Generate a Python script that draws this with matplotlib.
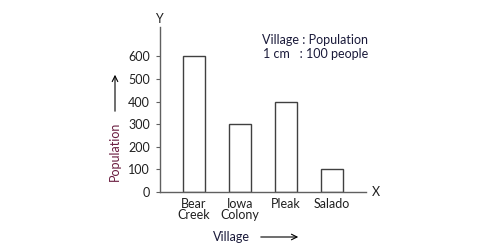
import matplotlib.pyplot as plt

villages = ['Bear\nCreek', 'Iowa\nColony', 'Pleak', 'Salado']
population = [600, 300, 400, 100]
yticks = [0, 100, 200, 300, 400, 500, 600]

plt.rcParams['font.family'] = ['Lato', 'DejaVu Sans']
W, H = 493, 244
fs = 9
fig = plt.figure(figsize=(W / 100, H / 100), dpi=100)
ax = fig.add_axes([159.5 / W, 52 / H, 206.5 / W, 165 / H])

x = range(len(villages))
ax.bar(x, population, width=0.48, color='white', edgecolor='#404040', linewidth=1)

ax.set_xlim(-0.75, 3.75)
ax.set_ylim(0, 730)
ax.set_yticks(yticks)
ax.set_yticklabels([str(v) for v in yticks], fontsize=fs, color='#202020')
ax.set_xticks(list(x))
ax.set_xticklabels(villages, fontsize=fs, color='#202020', linespacing=0.95)
ax.tick_params(axis='y', length=3, width=0.8, color='#606060', pad=4)
ax.tick_params(axis='x', length=0, pad=4)
for s in ['top', 'right']:
    ax.spines[s].set_visible(False)
for s in ['left', 'bottom']:
    ax.spines[s].set_color('#606060')
    ax.spines[s].set_linewidth(1)

def fx(px):
    return px / W

def fy(py):
    return 1 - py / H

fig.text(fx(159), fy(19), 'Y', fontsize=fs, ha='center', va='center', color='#202020')
fig.text(fx(376), fy(192), 'X', fontsize=fs, ha='center', va='center', color='#202020')

fig.text(fx(368), fy(40), 'Village : Population', fontsize=fs, ha='right', va='center', color='#1a1a3a')
fig.text(fx(368), fy(54), '1 cm   : 100 people', fontsize=fs, ha='right', va='center', color='#1a1a3a')

# y axis title with arrow
fig.text(fx(115), fy(151), 'Population', fontsize=fs, rotation=90, ha='center', va='center', color='#6a1d40')
ax.annotate('', xy=(fx(115), fy(72)), xytext=(fx(115), fy(114)),
            xycoords='figure fraction', textcoords='figure fraction',
            arrowprops=dict(arrowstyle='->', color='black', lw=0.8))

# x axis title with arrow
fig.text(fx(231), fy(237), 'Village', fontsize=fs, ha='center', va='center', color='#1a1a3a')
ax.annotate('', xy=(fx(301), fy(237)), xytext=(fx(258), fy(237)),
            xycoords='figure fraction', textcoords='figure fraction',
            arrowprops=dict(arrowstyle='->', color='black', lw=0.8))

fig.savefig('out.png', dpi=100)
